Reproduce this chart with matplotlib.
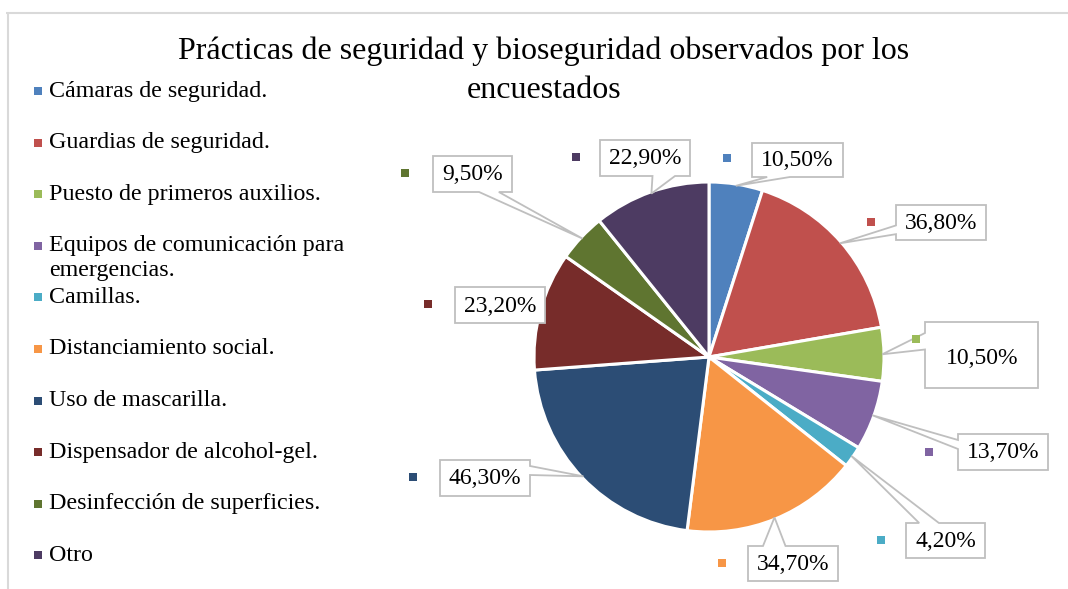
import matplotlib
matplotlib.use("Agg")
import matplotlib.pyplot as plt
from matplotlib.patches import Polygon
import numpy as np

# ---------------- data ----------------
categories = [
    "Cámaras de seguridad.",
    "Guardias de seguridad.",
    "Puesto de primeros auxilios.",
    "Equipos de comunicación para\nemergencias.",
    "Camillas.",
    "Distanciamiento social.",
    "Uso de mascarilla.",
    "Dispensador de alcohol-gel.",
    "Desinfección de superficies.",
    "Otro",
]
values = [10.5, 36.8, 10.5, 13.7, 4.2, 34.7, 46.3, 23.2, 9.5, 22.9]
value_labels = ["10,50%", "36,80%", "10,50%", "13,70%", "4,20%",
                "34,70%", "46,30%", "23,20%", "9,50%", "22,90%"]
colors = ["#4F81BD", "#C0504D", "#9BBB59", "#8064A2", "#4BACC6",
          "#F79646", "#2C4D75", "#772C2A", "#5F7530", "#4D3B62"]
title_lines = ["Prácticas de seguridad y bioseguridad observados por los",
               "encuestados"]

# ---------------- layout (pixel coords, y down) ----------------
W, H = 1068, 589
pie_center = (709, 357)
pie_radius = 175
# label boxes: (cx, cy, w, h)
label_boxes = [(797.5, 160, 91, 34), (941, 222.5, 90, 35), (981.5, 355, 113, 66),
               (1003, 452, 90, 36), (945.5, 540.5, 79, 35), (793, 563.5, 90, 35),
               (485, 478, 90, 36), (500, 305, 90, 36), (472.5, 174, 79, 36),
               (645, 158, 90, 36)]
label_text_pos = [None, None, (982, 357), None, None, None, None, None, None, None]
label_markers = [(727, 158), (871, 222), (916, 339), (929, 452), (881, 540),
                 (722, 563), (413, 477), (428, 304), (405, 173), (576, 157)]

FONT = "Liberation Serif"
plt.rcParams["font.family"] = [FONT, "DejaVu Serif"]
LBL_FS = 17.0
LEG_FS = 17.3
TITLE_FS = 23

fig = plt.figure(figsize=(W / 100, H / 100), dpi=100)
ax = fig.add_axes([0, 0, 1, 1])


def Y(y):
    return H - y


wedges, _ = ax.pie(values, colors=colors, startangle=90, counterclock=False,
                   radius=pie_radius, center=(pie_center[0], Y(pie_center[1])),
                   wedgeprops=dict(edgecolor="white", linewidth=2.2))
ax.set_xlim(0, W)
ax.set_ylim(0, H)
ax.set_aspect("equal")
ax.axis("off")

# frame (cropped chart border)
ax.plot([6, W], [Y(12.5), Y(12.5)], color="#D9D9D9", lw=1.5, solid_capstyle="butt")
ax.plot([7.5, 7.5], [Y(12.5), 0], color="#D9D9D9", lw=1.5, solid_capstyle="butt")

# title (two lines)
for k, ln in enumerate(title_lines):
    ax.text(544, Y(51 + k * 39), ln, ha="center", va="center",
            fontsize=TITLE_FS, color="#000000")


def callout_points(x0, y0, x1, y1, tip):
    cx, cy = (x0 + x1) / 2, (y0 + y1) / 2
    w, h = x1 - x0, y1 - y0
    tx, ty = tip
    inside = (x0 <= tx <= x1) and (y0 <= ty <= y1)
    dx, dy = (tx - cx) / w, (ty - cy) / h
    side = None
    if not inside:
        if abs(dy) >= abs(dx):
            side = "bottom" if dy > 0 else "top"
        else:
            side = "right" if dx > 0 else "left"
    if tx < cx:
        ha, hb = x0 + w * 2 / 12, x0 + w * 5 / 12
    else:
        ha, hb = x0 + w * 7 / 12, x0 + w * 10 / 12
    if ty < cy:
        va, vb = y0 + h * 2 / 12, y0 + h * 5 / 12
    else:
        va, vb = y0 + h * 7 / 12, y0 + h * 10 / 12
    pts = [(x0, y0)]
    if side == "top":
        pts += [(ha, y0), tip, (hb, y0)]
    pts.append((x1, y0))
    if side == "right":
        pts += [(x1, va), tip, (x1, vb)]
    pts.append((x1, y1))
    if side == "bottom":
        pts += [(hb, y1), tip, (ha, y1)]
    pts.append((x0, y1))
    if side == "left":
        pts += [(x0, vb), tip, (x0, va)]
    return [(px, Y(py)) for px, py in pts]


for i, wdg in enumerate(wedges):
    mid = np.deg2rad((wdg.theta1 + wdg.theta2) / 2)
    cxd, cyd = wdg.center
    r = wdg.r * 0.99
    tip = (cxd + r * np.cos(mid), H - (cyd + r * np.sin(mid)))
    bx, by, bw, bh = label_boxes[i]
    pts = callout_points(bx - bw / 2, by - bh / 2, bx + bw / 2, by + bh / 2, tip)
    ax.add_patch(Polygon(pts, closed=True, facecolor="white", edgecolor="#BFBFBF",
                         lw=1.3, zorder=3, joinstyle="miter"))
    tp = label_text_pos[i] if label_text_pos[i] is not None else (bx, by)
    ax.text(tp[0], Y(tp[1] + 1), value_labels[i], ha="center", va="center",
            fontsize=LBL_FS, zorder=4, color="#000000")
    mx, my = label_markers[i]
    ax.scatter([mx], [Y(my)], marker="s", s=30, color=colors[i], zorder=4,
               linewidths=0)

# legend (left)
leg_y0, leg_dy = 91, 51.6
for i, (cat, col) in enumerate(zip(categories, colors)):
    yy = leg_y0 + i * leg_dy
    ax.scatter([38], [Y(yy)], marker="s", s=26, color=col, linewidths=0, zorder=4)
    for k, ln in enumerate(cat.split("\n")):
        ax.text(49, Y(yy + k * 25), ln, ha="left", va="center",
                fontsize=LEG_FS, color="#000000")

fig.savefig("out.png", dpi=100, facecolor="white")
